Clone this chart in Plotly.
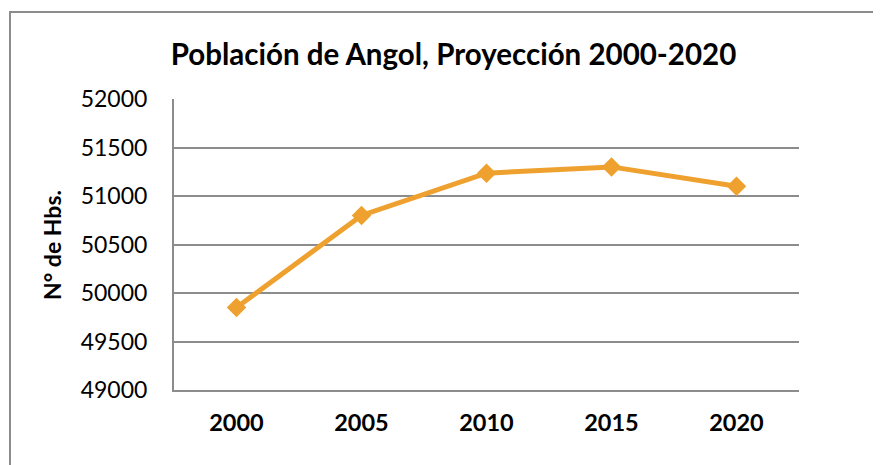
import plotly.graph_objects as go

years = ["2000", "2005", "2010", "2015", "2020"]
poblacion = [49850, 50800, 51235, 51300, 51100]
yTicks = [49000, 49500, 50000, 50500, 51000, 51500, 52000]

# page body adds ~8px offset, so reference pixel positions are shifted by OFF
OFF = 8
W, H = 881, 465
L, T = 174 - OFF, 99 - OFF
R = W - (799 - OFF)
B = H - (390 - OFF)
pw, ph = W - L - R, H - T - B

def px_x(x): return (x - OFF - L) / pw
def px_y(y): return (H - B - (y - OFF)) / ph

naranja = '#EFA12F'
gris = '#8C8C8C'

fig = go.Figure()
fig.add_trace(go.Scatter(x=years, y=poblacion, mode='lines+markers',
                         line=dict(color=naranja, width=5),
                         marker=dict(symbol='diamond', size=15, color=naranja),
                         hoverinfo='x+y', showlegend=False))

fig.update_layout(
    width=W, height=H,
    margin=dict(l=L, r=R, t=T, b=B, autoexpand=False),
    paper_bgcolor='white', plot_bgcolor='white',
    font=dict(family='Lato, Open Sans, sans-serif', color='black'),
    title=dict(text='<b>Población de Angol, Proyección 2000-2020</b>',
               font=dict(size=29.5, color='black'),
               xref='container', yref='container',
               x=(453.5 - OFF) / W, y=1 - (55 - OFF) / H, xanchor='center', yanchor='middle'),
)
fig.update_xaxes(type='category', range=[-0.5, 4.5], showgrid=False, showline=True,
                 linecolor=gris, linewidth=2,
                 ticks='', tickfont=dict(size=23.5, family='Lato', weight='bold'),
                 ticklabelstandoff=11)
fig.update_yaxes(range=[49000, 52000], tickvals=yTicks, tickformat='d', showgrid=True,
                 gridcolor=gris, gridwidth=2,
                 showline=True, linecolor=gris, linewidth=2, zeroline=False, ticks='',
                 tickfont=dict(size=23), ticklabelstandoff=20)

fig.add_annotation(text='<b>N° de Hbs.</b>', textangle=-90, xref='paper', yref='paper',
                   x=px_x(52), y=px_y(245), showarrow=False, font=dict(size=23),
                   xanchor='center', yanchor='middle')

fig.add_shape(type='rect', xref='paper', yref='paper',
              x0=px_x(10), x1=px_x(900), y0=px_y(480), y1=px_y(12),
              line=dict(color=gris, width=2), fillcolor='rgba(0,0,0,0)', layer='below')

fig.write_html("out.html")
